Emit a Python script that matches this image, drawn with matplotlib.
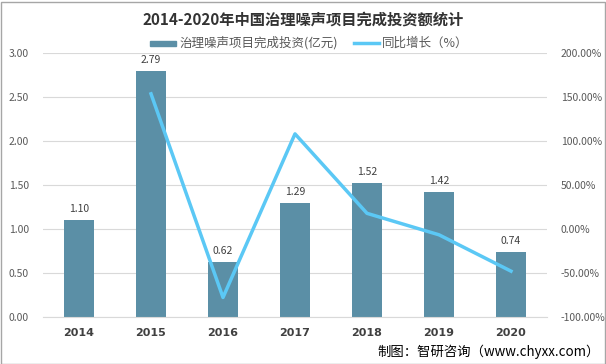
import matplotlib
matplotlib.use("Agg")
import matplotlib.pyplot as plt
from matplotlib.patches import Rectangle

plt.rcParams['font.family'] = ['Noto Sans CJK SC', 'DejaVu Sans']

years = ['2014', '2015', '2016', '2017', '2018', '2019', '2020']
invest = [1.10, 2.79, 0.62, 1.29, 1.52, 1.42, 0.74]
growth = [None, 153.6, -77.8, 108.1, 17.8, -6.6, -47.9]
left_ticks = [0, 0.5, 1.0, 1.5, 2.0, 2.5, 3.0]
right_ticks = [-100, -50, 0, 50, 100, 150, 200]

bar_color = '#5B8FA6'
line_color = '#5BC8F5'
grid_color = '#D9D9D9'
tick_color = '#595959'

fig = plt.figure(figsize=(6.06, 3.64), dpi=100)
fig.patch.set_facecolor('white')
ax = fig.add_axes([43/606, 1-317/364, 504/606, 264/364])
ax2 = ax.twinx()

x = list(range(len(years)))
ax.bar(x, invest, width=0.41, color=bar_color, zorder=2)
for xi, v in zip(x, invest):
    ax.text(xi, v + 0.07, f'{v:.2f}', ha='center', va='bottom', fontsize=7.5, color='#404040')

gx = [xi for xi, g in zip(x, growth) if g is not None]
gy = [g for g in growth if g is not None]
ax2.plot(gx, gy, color=line_color, lw=2.5, zorder=3)

ax.set_xlim(-0.5, len(years) - 0.5)
ax.set_ylim(0, 3.0)
ax2.set_ylim(-100, 200)
ax.set_yticks(left_ticks)
ax.set_yticklabels([f'{t:.2f}' for t in left_ticks])
ax2.set_yticks(right_ticks)
ax2.set_yticklabels([f'{t:.2f}%' for t in right_ticks])
ax.set_xticks(x)
ax.set_xticklabels(years, fontweight='bold', fontsize=8, color='#404040', family=['DejaVu Sans'])

ax.grid(axis='y', color=grid_color, lw=0.8, zorder=0)
ax.set_axisbelow(True)
for a in (ax, ax2):
    for s in a.spines.values():
        s.set_visible(False)
    a.tick_params(length=0)
ax.spines['bottom'].set_visible(True)
ax.spines['bottom'].set_color(grid_color)
ax.tick_params(axis='y', labelsize=7.5, labelcolor=tick_color, pad=10)
ax2.tick_params(axis='y', labelsize=7.5, labelcolor=tick_color, pad=10)
ax.tick_params(axis='x', pad=8)

fig.text(0.5, 1-20/364, '2014-2020年中国治理噪声项目完成投资额统计', ha='center', va='center',
         fontsize=11, fontweight='bold', color='#333333')

# legend
lx1 = 150/606
ly = 1-43/364
fig.add_artist(Rectangle((lx1, ly-3/364), 26/606, 5/364, transform=fig.transFigure, color=bar_color))
fig.text(179/606, ly, '治理噪声项目完成投资(亿元)', ha='left', va='center', fontsize=9, color='#595959')
lx2 = 354/606
fig.add_artist(plt.Line2D([lx2, 379/606], [ly, ly], transform=fig.transFigure, color=line_color, lw=2.5))
fig.text(382/606, ly, '同比增长（%）', ha='left', va='center', fontsize=9, color='#595959')

fig.text(600/606, 1-352/364, '制图：智研咨询（www.chyxx.com）', ha='right', va='center',
         fontsize=9.6, color='#000000')

fig.add_artist(Rectangle((0.5/606, 0.5/364), 604/606, 362/364, transform=fig.transFigure,
                         fill=False, edgecolor='#A6A6A6', lw=1))

fig.savefig('out.png', dpi=100)
